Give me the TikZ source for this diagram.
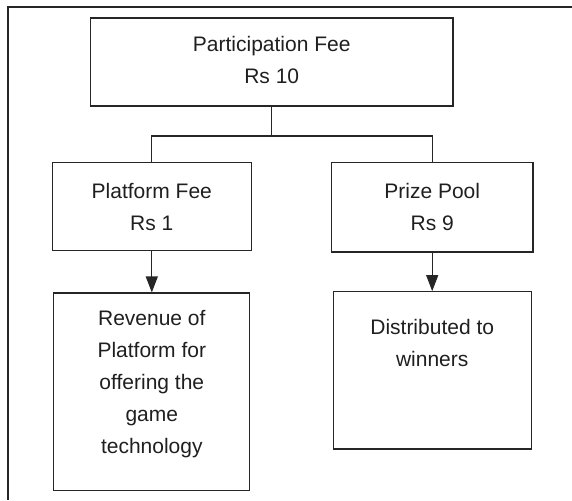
\documentclass[tikz,border=0pt]{standalone}
\usepackage{fontspec}
\setmainfont{Liberation Sans}
\usetikzlibrary{arrows.meta}
\tikzset{
  boxshape/.style={draw=black!85, line width=1.1pt, inner sep=0pt, rectangle},
  lbl/.style={text=black!88, font=\fontsize{21}{32}\selectfont, align=center, inner sep=0pt},
  conn/.style={draw=black!85, line width=1.1pt},
  arr/.style={conn, -{Triangle[length=16pt,width=12pt]}}
}
\begin{document}
\begin{tikzpicture}[x=1pt,y=-1pt]
\useasboundingbox (0,0) rectangle (572,500);
% frame
\draw[conn] (572,7) -- (8,7) -- (8,500);
% boxes
\node[boxshape, minimum width=362.5pt, minimum height=88pt] (top) at (271.75,62) {};
\node[lbl] (toptext) at (271.75,60) {Participation Fee\\Rs 10};
\node[boxshape, minimum width=198.8pt, minimum height=88pt] (left) at (151.8,206.5) {};
\node[lbl] (lefttext) at (151.8,207) {Platform Fee\\Rs 1};
\node[boxshape, minimum width=201.5pt, minimum height=89.5pt] (right) at (432.2,207.25) {};
\node[lbl] (righttext) at (432.2,207) {Prize Pool\\Rs 9};
\node[boxshape, minimum width=196.2pt, minimum height=197.5pt] (bl) at (151.8,391.75) {};
\node[lbl] (bltext) at (151.8,384) {Revenue of\\Platform for\\offering the\\game\\technology};
\node[boxshape, minimum width=197.7pt, minimum height=157.3pt] (br) at (432.2,370.35) {};
\node[lbl] (brtext) at (432.2,342.5) {Distributed to\\winners};
% connectors
\coordinate (mid) at (272.5,136);
\draw[conn] (top.south) -- (top.south |- mid);
\draw[conn] (left.north) -- (left.north |- mid) -- (right.north |- mid) -- (right.north);
\draw[arr] (left.south) -- (bl.north);
\draw[arr] (right.south) -- (br.north);
\end{tikzpicture}
\end{document}
